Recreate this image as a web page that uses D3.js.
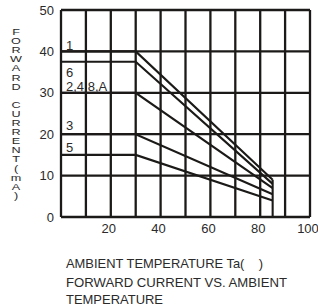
<!DOCTYPE html>
<html><head><meta charset="utf-8">
<script src="https://cdn.jsdelivr.net/npm/d3@7"></script>
<style>body{margin:0;background:#fff}svg{display:block}text{font-family:"Liberation Sans",Arial,sans-serif;fill:#2a2a2a}</style>
</head><body><svg id="c" width="318" height="308"></svg>
<script>
const seriesNames = ["1", "6", "2,4,8,A", "3", "5"];
const plateauValues = [40, 37.5, 30, 20, 15];
const endValues = [9, 8, 7, 5.5, 4];
const kneeTemp = 30, endTemp = 85;
const xTicks = [20, 40, 60, 80, 100];
const yTicks = [0, 10, 20, 30, 40, 50];
const yTitle = "FORWARD CURRENT(mA)";
const xTitleLines = ["AMBIENT TEMPERATURE Ta(\u00a0\u00a0\u00a0\u00a0)", "FORWARD CURRENT VS. AMBIENT", "TEMPERATURE"];

const svg = d3.select("#c");
const x = d3.scaleLinear().domain([0, 100]).range([61, 310]);
const y = d3.scaleLinear().domain([0, 50]).range([217, 10]);
const ink = "#1c1a18";

const g = svg.append("g");
g.selectAll(".gv").data(d3.range(0, 101, 10)).join("line")
  .attr("x1", d => x(d)).attr("x2", d => x(d)).attr("y1", y(0)).attr("y2", y(50))
  .attr("stroke", ink).attr("stroke-width", 2.3);
g.selectAll(".gh").data(d3.range(0, 51, 10)).join("line")
  .attr("x1", x(0)).attr("x2", x(100)).attr("y1", d => y(d)).attr("y2", d => y(d))
  .attr("stroke", ink).attr("stroke-width", 2.3);

const line = d3.line().x(d => x(d[0])).y(d => y(d[1]));
seriesNames.forEach((n, i) => {
  const pts = [[0, plateauValues[i]], [kneeTemp, plateauValues[i]], [endTemp, endValues[i]]];
  g.append("path").attr("d", line(pts)).attr("fill", "none").attr("stroke", ink).attr("stroke-width", 2.1);
});
g.append("line").attr("x1", x(endTemp)).attr("x2", x(endTemp))
  .attr("y1", y(d3.max(endValues))).attr("y2", y(0)).attr("stroke", ink).attr("stroke-width", 2.1);

const labelBase = [50, 77, 91, 130, 152];
seriesNames.forEach((n, i) => {
  svg.append("text").attr("x", 66).attr("y", labelBase[i]).attr("font-size", 13).text(n);
});

svg.selectAll(".yt").data(yTicks).join("text")
  .attr("x", 54).attr("y", d => y(d) + 4.5).attr("text-anchor", "end").attr("font-size", 13).text(d => d);
svg.selectAll(".xt").data(xTicks).join("text")
  .attr("x", d => x(d) - 2).attr("y", 233).attr("text-anchor", "middle").attr("font-size", 13).text(d => d);

// y title: upright letters stacked vertically
yTitle.split("").forEach((ch, i) => {
  svg.append("text")
    .attr("transform", `translate(16,${35 + i * 9.1}) scale(1.15,0.9)`)
    .attr("text-anchor", "middle").attr("font-size", 11).text(ch);
});

const lens = [197, 221, 97];
const bases = [268, 287, 304];
xTitleLines.forEach((t, i) => {
  svg.append("text").attr("x", 66).attr("y", bases[i]).attr("font-size", 13)
    .attr("textLength", lens[i]).attr("lengthAdjust", "spacingAndGlyphs").text(t);
});
</script></body></html>
